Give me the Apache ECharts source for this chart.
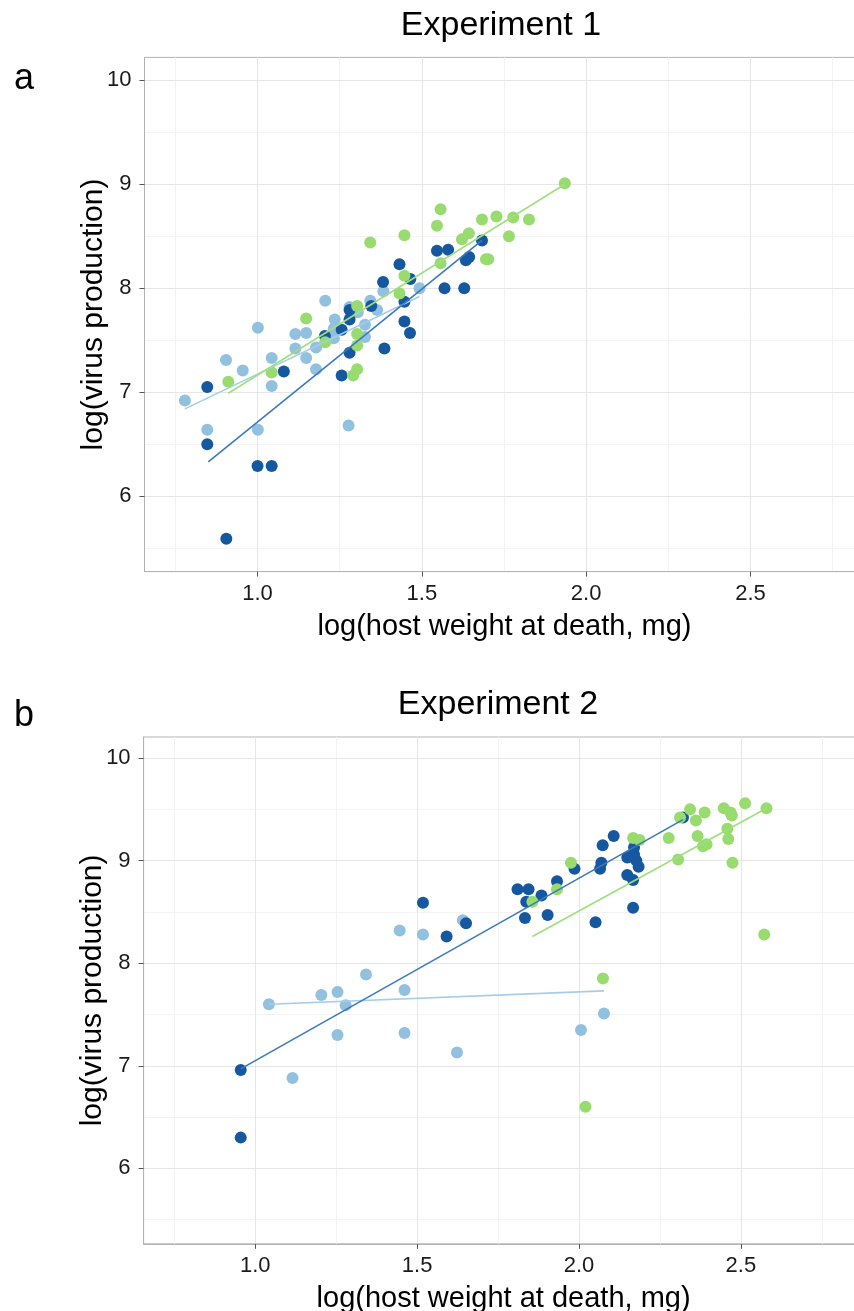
<!DOCTYPE html>
<html>
<head>
<meta charset="utf-8">
<script src="https://cdn.jsdelivr.net/npm/echarts@6/dist/echarts.min.js"></script>
<style>
html,body{margin:0;padding:0;background:#fff;overflow:hidden;}
#chart{width:854px;height:1311px;}
</style>
</head>
<body>
<div id="chart"></div>
<script>
// ---------- Experiment 1 (panel a) ----------
const aDark = [[0.847,7.05],[0.847,6.50],[0.905,5.59],[1.000,6.29],[1.043,6.29],[1.080,7.20],[1.205,7.54],[1.256,7.60],[1.256,7.16],[1.280,7.79],[1.280,7.70],[1.280,7.38],[1.346,7.83],[1.386,7.42],[1.382,8.06],[1.432,8.23],[1.447,7.87],[1.447,7.68],[1.464,7.57],[1.465,8.09],[1.546,8.36],[1.580,8.37],[1.569,8.00],[1.629,8.00],[1.634,8.27],[1.644,8.30],[1.683,8.46]];
const aLight = [[0.779,6.92],[0.847,6.64],[0.904,7.31],[0.955,7.21],[1.001,7.62],[1.001,6.64],[1.043,7.33],[1.043,7.06],[1.115,7.56],[1.115,7.42],[1.148,7.57],[1.148,7.33],[1.178,7.43],[1.178,7.22],[1.206,7.88],[1.235,7.70],[1.232,7.61],[1.232,7.52],[1.280,7.82],[1.277,6.68],[1.305,7.77],[1.327,7.65],[1.327,7.53],[1.364,7.79],[1.343,7.88],[1.383,7.97],[1.493,8.00]];
const aGreen = [[0.911,7.10],[1.043,7.19],[1.148,7.71],[1.206,7.48],[1.291,7.16],[1.303,7.22],[1.303,7.45],[1.303,7.56],[1.303,7.83],[1.343,8.44],[1.432,7.95],[1.447,8.12],[1.447,8.51],[1.546,8.60],[1.557,8.76],[1.557,8.24],[1.622,8.47],[1.643,8.53],[1.683,8.66],[1.695,8.28],[1.702,8.28],[1.727,8.69],[1.765,8.50],[1.778,8.68],[1.826,8.66],[1.935,9.01]];
const aDarkFit = [[0.850,6.33],[1.683,8.46]];
const aLightFit = [[0.779,6.84],[1.493,7.92]];
const aGreenFit = [[0.911,6.99],[1.935,9.00]];

// ---------- Experiment 2 (panel b) ----------
const bDark = [[0.955,6.96],[0.955,6.30],[1.518,8.59],[1.591,8.26],[1.651,8.39],[1.810,8.72],[1.844,8.72],[1.837,8.60],[1.833,8.44],[1.884,8.66],[1.903,8.47],[1.932,8.80],[1.986,8.92],[2.051,8.40],[2.065,8.92],[2.069,8.98],[2.073,9.15],[2.107,9.24],[2.149,9.03],[2.149,8.86],[2.167,8.54],[2.167,8.81],[2.170,9.13],[2.170,9.06],[2.177,9.00],[2.184,8.94],[2.160,9.04],[2.321,9.42]];
const bLight = [[1.042,7.60],[1.115,6.88],[1.204,7.69],[1.254,7.72],[1.254,7.30],[1.279,7.59],[1.342,7.89],[1.446,8.32],[1.461,7.74],[1.461,7.32],[1.518,8.28],[1.623,7.13],[1.641,8.42],[2.006,7.35],[2.077,7.51]];
const bGreen = [[1.975,8.98],[1.932,8.72],[1.856,8.60],[2.074,7.85],[2.020,6.60],[2.167,9.22],[2.187,9.20],[2.277,9.22],[2.306,9.01],[2.312,9.42],[2.343,9.50],[2.361,9.39],[2.366,9.24],[2.383,9.14],[2.394,9.16],[2.388,9.47],[2.447,9.51],[2.458,9.31],[2.461,9.21],[2.468,9.47],[2.472,9.44],[2.474,8.98],[2.513,9.56],[2.579,9.51],[2.572,8.28]];
const bDarkFit = [[0.955,6.97],[2.321,9.40]];
const bLightFit = [[1.042,7.60],[2.077,7.73]];
const bGreenFit = [[1.856,8.26],[2.579,9.51]];

// ---------- Axis ticks / gridlines ----------
const xTickLabels = [1.0, 1.5, 2.0, 2.5];
const xMinorGrid = [0.75, 1.25, 1.75, 2.25, 2.75];
const yTickLabels = [6, 7, 8, 9, 10];
const yMinorGrid = [5.5, 6.5, 7.5, 8.5, 9.5];

const titles = ['Experiment 1', 'Experiment 2'];
const panelLetters = ['a', 'b'];
const xTitle = 'log(host weight at death, mg)';
const yTitle = 'log(virus production)';

const FONT = '"Liberation Sans", Arial, Helvetica, sans-serif';
const C_DARK = '#1658a0', C_LIGHT = '#92c1df', C_GREEN = '#98db6e';
const L_DARK = '#3b79c0', L_LIGHT = '#a5cdea', L_GREEN = '#9fdf7e';

const panels = [
  {grid:{left:144.5, top:57.4, width:720, height:514.2}, xr:[0.656, 2.847], yr:[5.275, 10.22],
   dark:aDark, light:aLight, green:aGreen, dFit:aDarkFit, lFit:aLightFit, gFit:aGreenFit},
  {grid:{left:143.6, top:737, width:720, height:506.8}, xr:[0.655, 2.879], yr:[5.265, 10.205],
   dark:bDark, light:bLight, green:bGreen, dFit:bDarkFit, lFit:bLightFit, gFit:bGreenFit}
];

const grids = [], xAxes = [], yAxes = [], series = [];
panels.forEach((p, i) => {
  grids.push(Object.assign({show:true, borderColor:'#b3b3b3', borderWidth:1, backgroundColor:'#fff',
    containLabel:false, outerBoundsMode:'none'}, p.grid));
  xAxes.push({
    gridIndex:i, type:'value', min:p.xr[0], max:p.xr[1],
    axisLine:{show:true, lineStyle:{color:'#b3b3b3'}},
    axisTick:{show:true, customValues:xTickLabels, length:5, lineStyle:{color:'#555'}},
    axisLabel:{customValues:xTickLabels, formatter:v => Number(v).toFixed(1), fontSize:22, color:'#1a1a1a', fontFamily:FONT, margin:11},
    splitLine:{show:false},
    name:xTitle, nameLocation:'middle', nameGap:41, nameMoveOverlap:false,
    nameTextStyle:{fontSize:29, color:'#000', fontFamily:FONT}
  });
  yAxes.push({
    gridIndex:i, type:'value', min:p.yr[0], max:p.yr[1],
    axisLine:{show:true, lineStyle:{color:'#b3b3b3'}},
    axisTick:{show:true, customValues:yTickLabels, length:5, lineStyle:{color:'#555'}},
    axisLabel:{customValues:yTickLabels, formatter:v => String(Math.round(v)), fontSize:22, color:'#1a1a1a', fontFamily:FONT, margin:13},
    splitLine:{show:false},
    name:yTitle, nameLocation:'middle', nameGap:36, nameMoveOverlap:false,
    nameTextStyle:{fontSize:30, color:'#000', fontFamily:FONT}
  });
  const ml = [];
  xMinorGrid.forEach(v => ml.push({xAxis:v, lineStyle:{color:'#f3f3f3', width:1, type:'solid'}}));
  yMinorGrid.forEach(v => ml.push({yAxis:v, lineStyle:{color:'#f3f3f3', width:1, type:'solid'}}));
  xTickLabels.forEach(v => ml.push({xAxis:v, lineStyle:{color:'#e6e6e6', width:1, type:'solid'}}));
  yTickLabels.forEach(v => ml.push({yAxis:v, lineStyle:{color:'#e6e6e6', width:1, type:'solid'}}));
  series.push({
    type:'line', xAxisIndex:i, yAxisIndex:i, data:[], z:0, silent:true,
    markLine:{silent:true, z:0, symbol:['none','none'], label:{show:false}, animation:false, data:ml}
  });
  const sc = (data, color) => ({
    type:'scatter', xAxisIndex:i, yAxisIndex:i, data:data, symbolSize:12, z:6,
    itemStyle:{color:color, opacity:1}
  });
  series.push(sc(p.light, C_LIGHT));
  series.push(sc(p.dark, C_DARK));
  series.push(sc(p.green, C_GREEN));
  const ln = (data, color) => ({
    type:'line', xAxisIndex:i, yAxisIndex:i, data:data, showSymbol:false, symbol:'none', z:7,
    lineStyle:{color:color, width:1.6}
  });
  series.push(ln(p.lFit, L_LIGHT));
  series.push(ln(p.dFit, L_DARK));
  series.push(ln(p.gFit, L_GREEN));
});

const chart = echarts.init(document.getElementById('chart'), null, {renderer:'canvas'});
chart.setOption({
  animation:false,
  backgroundColor:'#fff',
  grid:grids, xAxis:xAxes, yAxis:yAxes, series:series,
  graphic:[
    {type:'text', style:{text:titles[0], x:501, y:26, font:'34px ' + FONT, fill:'#000', textAlign:'center', textVerticalAlign:'middle'}, z:10},
    {type:'text', style:{text:titles[1], x:498, y:705, font:'34px ' + FONT, fill:'#000', textAlign:'center', textVerticalAlign:'middle'}, z:10},
    {type:'text', style:{text:panelLetters[0], x:24, y:79, font:'36px ' + FONT, fill:'#000', textAlign:'center', textVerticalAlign:'middle'}, z:10},
    {type:'text', style:{text:panelLetters[1], x:24, y:716, font:'36px ' + FONT, fill:'#000', textAlign:'center', textVerticalAlign:'middle'}, z:10}
  ]
});
</script>
</body>
</html>
